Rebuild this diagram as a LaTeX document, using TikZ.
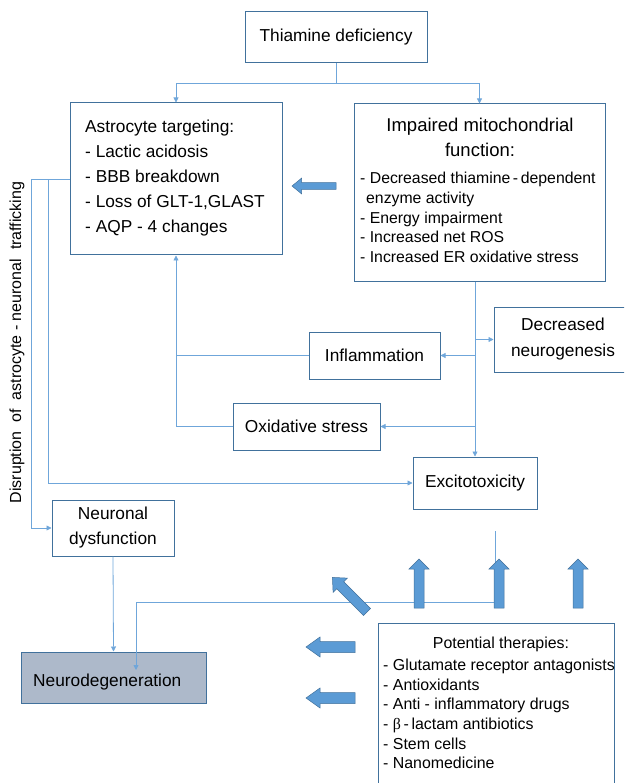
\documentclass[tikz,border=0pt]{standalone}
\usepackage{fontspec}
\setmainfont{Liberation Sans}
\newfontfamily\serifb{Liberation Serif}
\usetikzlibrary{arrows.meta}
\definecolor{boxc}{HTML}{41719C}
\definecolor{linec}{HTML}{6FA6DA}
\definecolor{arrc}{HTML}{5B9BD5}
\definecolor{arrbd}{HTML}{41719C}
\definecolor{ndfill}{HTML}{ADB9CA}
\begin{document}
\begin{tikzpicture}[x=1pt,y=-1pt,
  box/.style={draw=boxc, line width=1pt, fill=white, inner sep=0pt, align=center,
    font=\fontsize{17.3pt}{25pt}\selectfont},
  txt/.style={inner sep=0pt, align=left},
  conn/.style={draw=linec, line width=0.8pt},
  arr/.style={conn, -{Triangle[length=5pt,width=5pt]}},
  blk/.style={fill=arrc, draw=arrbd, line width=0.5pt, line join=miter}]
\useasboundingbox (0,0) rectangle (624,783);
\clip (0,0) rectangle (624,783);

% boxes
\node[box, minimum width=182pt, minimum height=51pt] (thi) at (336,37.5) {Thiamine deficiency};
\node[box, minimum width=212pt, minimum height=152pt] (astro) at (176,179) {};
\node[txt, anchor=west, font=\fontsize{17.3pt}{25pt}\selectfont] (astrot) at (85,178)
  {Astrocyte targeting:\\- Lactic acidosis\\- BBB breakdown\\- Loss of GLT-1,GLAST\\- AQP - 4 changes};
\node[box, minimum width=251pt, minimum height=177pt] (mito) at (479.5,192.5) {};
\node[inner sep=0pt, align=center, font=\fontsize{18.5pt}{25pt}\selectfont] (mitot) at (480,137.5)
  {Impaired mitochondrial\\function:};
\node[txt, anchor=west, font=\fontsize{15.8pt}{19.7pt}\selectfont] (mitoi) at (360,217.5)
  {- Decreased thiamine\,-\,dependent\\\hspace*{6pt}enzyme activity\\- Energy impairment\\- Increased net ROS\\- Increased ER oxidative stress};
\node[box, minimum width=138pt, minimum height=65pt, font=\fontsize{17.3pt}{26pt}\selectfont] (dec) at (563,339.5) {Decreased\\neurogenesis};
\node[box, minimum width=131pt, minimum height=47pt] (infl) at (374.5,355.5) {Inflammation};
\node[box, minimum width=147pt, minimum height=47pt] (oxs) at (306.5,426.5) {Oxidative stress};
\node[box, minimum width=124pt, minimum height=52pt] (exc) at (475,483) {Excitotoxicity};
\node[box, minimum width=122pt, minimum height=56pt] (neur) at (113,528) {Neuronal\\dysfunction};
\node[box, fill=ndfill, minimum width=185pt, minimum height=51pt] (nd) at (113.5,677.5) {};
\node[txt, anchor=west, font=\fontsize{17.3pt}{25pt}\selectfont] (ndt) at (33,682) {Neurodegeneration};
\node[box, minimum width=236pt, minimum height=177pt] (ther) at (496,711.5) {};
\node[inner sep=0pt, font=\fontsize{15.9pt}{19.6pt}\selectfont] (thert) at (501,644) {Potential therapies:};
\node[txt, anchor=west, font=\fontsize{15.9pt}{19.6pt}\selectfont] (theri) at (383,714)
  {- Glutamate receptor antagonists\\- Antioxidants\\- Anti - inflammatory drugs\\- {\serifb β}\,-\,lactam antibiotics\\- Stem cells\\- Nanomedicine};
\node[inner sep=0pt, rotate=90, font=\fontsize{16pt}{19pt}\selectfont] (disr) at (17,342.5)
  {Disruption~~of~~astrocyte - neuronal~~trafficking};

% connectors
\draw[conn] (thi.south) -- ++(0,20) coordinate (j1);
\draw[arr] (j1) -| (astro.north);
\draw[arr] (j1) -| (mito.north);
\draw[arr] (astro.west) -- ++(-38,0) |- (neur.west);
\draw[arr] (astro.west) -- ++(-21,0) |- (exc.west);
\draw[arr] (oxs.west) -| (astro.south);
\draw[conn] (infl.west) -- (infl.west -| astro.south);
\draw[arr] (mito.south -| exc.north) -- (exc.north);
\draw[arr] (dec.west -| exc.north) -- (dec.west);
\draw[arr] (infl.east -| exc.north) -- (infl.east);
\draw[arr] (oxs.east -| exc.north) -- (oxs.east);
\draw[arr] (neur.south) -- (nd.north);
\coordinate (e1) at (495,531);
\coordinate (e2) at (136,670);
\draw[arr] (e1) -- ++(0,71) -| (e2);

% block arrows
\draw[blk] (336,182.7) -- (301.5,182.7) -- (301.5,178.2) -- (292,186) -- (301.5,193.8) -- (301.5,189.3) -- (336,189.3) -- cycle;
\foreach \yy in {647,698}{
  \draw[blk] (355,\yy-5.5) -- (320,\yy-5.5) -- (320,\yy-10) -- (306,\yy) -- (320,\yy+10) -- (320,\yy+5.5) -- (355,\yy+5.5) -- cycle;
}
\foreach \xx in {419,499,578}{
  \draw[blk] (\xx-5,608) -- (\xx-5,569) -- (\xx-10,569) -- (\xx,559) -- (\xx+10,569) -- (\xx+5,569) -- (\xx+5,608) -- cycle;
}
\draw[blk] (370.5,608.5) -- (343.7,581.7) -- (347.3,578.1) -- (332.4,577.4) -- (333.1,592.3) -- (336.7,588.7) -- (363.5,615.5) -- cycle;
\end{tikzpicture}
\end{document}
